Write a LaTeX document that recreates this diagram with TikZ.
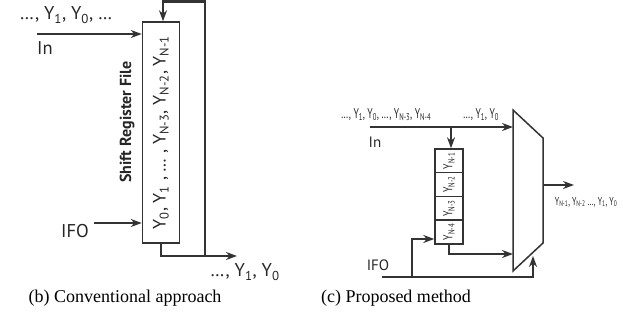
\documentclass[tikz,border=0pt]{standalone}
\usepackage{fontspec}
\setmainfont{Liberation Serif}
\setsansfont{PT Sans}
\usetikzlibrary{arrows.meta}
\begin{document}
\begin{tikzpicture}[x=1pt,y=-1pt,
  wire/.style={line width=2.6pt, draw=black!80},
  arr/.style={wire,-{Stealth[length=11pt,width=8pt]}},
  boxst/.style={draw=black!80, line width=1.5pt, inner sep=0pt},
  lbl/.style={font=\sffamily\fontsize{18.5}{18.5}\selectfont, inner sep=0pt, text=black!85},
  slbl/.style={font=\sffamily\fontsize{15}{15}\selectfont, inner sep=0pt, text=black!85},
  cond/.style={font=\sffamily\fontsize{14}{14}\selectfont, inner sep=0pt, xscale=0.68, text=black!85},
  cell/.style={boxst, fill=white, minimum width=28pt, minimum height=23.75pt},
  celltxt/.style={font=\sffamily\fontsize{13}{13}\selectfont, inner sep=0pt, rotate=90, xscale=0.75, text=black!85},
  captext/.style={font=\rmfamily\fontsize{18}{18}\selectfont, inner sep=0pt}
]
\useasboundingbox (0,0) rectangle (623,321);

% ---------- (b) conventional ----------
\node[boxst, minimum width=37pt, minimum height=221pt] (srf) at (161,132.5) {};
\node[lbl, font=\sffamily\fontsize{18}{18}\selectfont, rotate=90] (srftxt) at (srf.center) {Y\textsubscript{0}, Y\textsubscript{1} , … , Y\textsubscript{N-3}, Y\textsubscript{N-2}, Y\textsubscript{N-1}};
\node[lbl, font=\sffamily\bfseries\fontsize{16}{16}\selectfont, rotate=90] (srfname) at (127,122) {Shift Register File};

\coordinate (inS) at (37,34);
\draw[arr] (inS) -- (srf.west |- inS);
\coordinate (ifoS) at (94,223);
\draw[arr] (ifoS) -- (srf.west |- ifoS);

\coordinate (fbTL) at (163,1.3);
\coordinate (fbTR) at (205,1.3);
\coordinate (fbBR) at (205,256);
\draw[arr] (fbBR) -- (fbTR) -- (fbTL) -- (fbTL |- srf.north);
\coordinate (outE) at (237,256);
\draw[arr] (srf.south) -- (srf.south |- outE) -- (outE);

\node[lbl] (seqin) at (66,15) {…, Y\textsubscript{1}, Y\textsubscript{0}, …};
\node[lbl] (inl) at (45,48) {In};
\node[lbl] (ifol) at (75,231) {IFO};
\node[lbl] (seqout) at (245,272) {…, Y\textsubscript{1}, Y\textsubscript{0}};

\node[captext] (capb) at (125,298) {(b) Conventional approach};

% ---------- (c) proposed ----------
\coordinate (m1) at (513,110);
\coordinate (m2) at (543,138);
\coordinate (m3) at (543,243);
\coordinate (m4) at (513,271);
\draw[draw=black!80, line width=1.5pt, line join=miter] (m1) -- (m2) -- (m3) -- (m4) -- cycle;

\node[cell] (c1) at (449,160.9) {};
\node[cell] (c2) at (449,184.6) {};
\node[cell] (c3) at (449,208.4) {};
\node[cell] (c4) at (449,232.1) {};
\node[celltxt] (t1) at (c1) {Y\textsubscript{N-1}};
\node[celltxt] (t2) at (c2) {Y\textsubscript{N-2}};
\node[celltxt] (t3) at (c3) {Y\textsubscript{N-3}};
\node[celltxt] (t4) at (c4) {Y\textsubscript{N-4}};

\coordinate (topS) at (370,127);
\draw[arr] (topS) -- (topS -| m1);
\coordinate (dnS) at (451,127);
\draw[arr] (dnS) -- (dnS |- c1.north);

\coordinate (botR) at (449,254);
\draw[arr] (c4.south) -- (botR) -- (botR -| m1);

\coordinate (ifoR) at (382,277);
\coordinate (ifoE) at (533,277);
\coordinate (ifoT) at (533,256);
\draw[arr] (ifoR) -- (ifoE) -- (ifoT);
\coordinate (brB) at (412,277);
\coordinate (brT) at (412,239);
\draw[arr] (brB) -- (brT) -- (brT -| c4.west);

\coordinate (outS) at (543,185);
\coordinate (outT) at (574,185);
\draw[arr] (outS) -- (outT);

\node[cond] (rseq1) at (386,115) {…, Y\textsubscript{1}, Y\textsubscript{0}, …, Y\textsubscript{N-3}, Y\textsubscript{N-4}};
\node[cond] (rseq2) at (481,115) {…, Y\textsubscript{1}, Y\textsubscript{0}};
\node[slbl] (rin) at (375,142) {In};
\node[slbl] (rifo) at (378,265) {IFO};
\node[cond, font=\sffamily\fontsize{11.5}{11.5}\selectfont] (rout) at (586,202) {Y\textsubscript{N-1}, Y\textsubscript{N-2} …, Y\textsubscript{1}, Y\textsubscript{0}};

\node[captext] (capc) at (396,298) {(c) Proposed method};
\end{tikzpicture}
\end{document}
